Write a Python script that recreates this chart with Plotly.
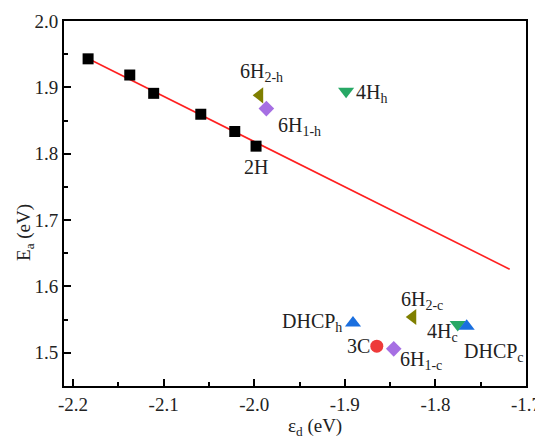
import plotly.graph_objects as go

# Black series (fitted)
fit_pts_x = [-2.1834, -2.1374, -2.111, -2.059, -2.0215, -1.998]
fit_pts_y = [1.943, 1.9186, 1.891, 1.8595, 1.8335, 1.8114]
# Fit line endpoints as drawn
line_x = [-2.183, -1.718]
line_y = [1.943, 1.626]

# Labelled structures
names = ["6H2-h", "6H1-h", "4Hh", "DHCPh", "3C", "6H1-c", "6H2-c", "4Hc", "DHCPc"]
px = [-1.994, -1.9866, -1.8986, -1.891, -1.8647, -1.846, -1.825, -1.7754, -1.7655]
py = [1.888, 1.868, 1.894, 1.545, 1.510, 1.506, 1.554, 1.5425, 1.540]
symbols = ["triangle-left", "diamond", "triangle-down", "triangle-up", "circle",
           "diamond", "triangle-left", "triangle-down", "triangle-up"]
colors = ["#7f7f00", "#a66fe3", "#27a865", "#1a6fdf", "#ee3a3a",
          "#a66fe3", "#7f7f00", "#27a865", "#1a6fdf"]
sizes = [14, 12, 14, 14, 13, 12, 14, 14, 14]
label_text = ["6H<sub>2-h</sub>", "6H<sub>1-h</sub>", "4H<sub>h</sub>", "DHCP<sub>h</sub>",
              "3C", "6H<sub>1-c</sub>", "6H<sub>2-c</sub>", "4H<sub>c</sub>", "DHCP<sub>c</sub>"]
label_anchor = ["center", "center", "left", "right", "right", "left", "center", "right", "left"]
label_dx = [2, 33, 8, -9, -5, 4, 9, 2, -5]
label_dy = [23, -18, -2, 0, 0, -12, 16, -8, -26]

x_tickvals = [-2.2, -2.1, -2.0, -1.9, -1.8, -1.7]
x_ticktext = ["-2.2", "-2.1", "-2.0", "-1.9", "-1.8", "-1.7"]
y_tickvals = [1.5, 1.6, 1.7, 1.8, 1.9, 2.0]
y_ticktext = ["1.5", "1.6", "1.7", "1.8", "1.9", "2.0"]

FONT = "Liberation Serif, Times New Roman, serif"
TXT = "#222"

fig = go.Figure()
fig.add_trace(go.Scatter(x=line_x, y=line_y, mode="lines",
                         line=dict(color="#ff2020", width=1.6), showlegend=False))
fig.add_trace(go.Scatter(x=fit_pts_x, y=fit_pts_y, mode="markers",
                         marker=dict(symbol="square", size=11, color="black"),
                         showlegend=False))
for i in range(len(names)):
    fig.add_trace(go.Scatter(x=[px[i]], y=[py[i]], mode="markers",
                             marker=dict(symbol=symbols[i], size=sizes[i], color=colors[i]),
                             showlegend=False))
    fig.add_annotation(x=px[i], y=py[i], text=label_text[i], showarrow=False,
                       xanchor=label_anchor[i], yanchor="middle",
                       xshift=label_dx[i], yshift=label_dy[i],
                       font=dict(family=FONT, size=20, color=TXT))

# 2H label
fig.add_annotation(x=fit_pts_x[-1], y=fit_pts_y[-1], text="2H", showarrow=False,
                   xanchor="center", yanchor="middle", yshift=-21,
                   font=dict(family=FONT, size=20, color=TXT))

# Axis titles
fig.add_annotation(xref="paper", yref="paper", x=0.543, y=-0.112, text="ε<sub>d</sub> (eV)",
                   showarrow=False, xanchor="center", yanchor="middle",
                   font=dict(family=FONT, size=19, color=TXT))
fig.add_annotation(xref="paper", yref="paper", x=-0.086, y=0.42, text="E<sub>a</sub> (eV)",
                   showarrow=False, xanchor="center", yanchor="middle", textangle=-90,
                   font=dict(family=FONT, size=19, color=TXT))

axis_common = dict(showgrid=False, zeroline=False, showline=True, linecolor="black",
                   linewidth=2, mirror=True, ticks="inside", ticklen=7, tickwidth=2,
                   tickcolor="black", automargin=False,
                   tickfont=dict(family=FONT, size=19, color=TXT))

fig.update_xaxes(range=[-2.21, -1.70], tickmode="array", tickvals=x_tickvals, ticktext=x_ticktext,
                 minor=dict(dtick=0.05, tick0=-2.2, ticks="inside", ticklen=4, tickwidth=2,
                            tickcolor="black"),
                 **axis_common)
fig.update_yaxes(range=[1.45, 2.0], tickmode="array", tickvals=y_tickvals, ticktext=y_ticktext,
                 minor=dict(dtick=0.05, tick0=1.5, ticks="inside", ticklen=4, tickwidth=2,
                            tickcolor="black"),
                 **axis_common)

fig.update_layout(width=535, height=434, plot_bgcolor="white", paper_bgcolor="white",
                  margin=dict(l=56, r=17, t=13, b=56))

fig.write_html("out.html")
